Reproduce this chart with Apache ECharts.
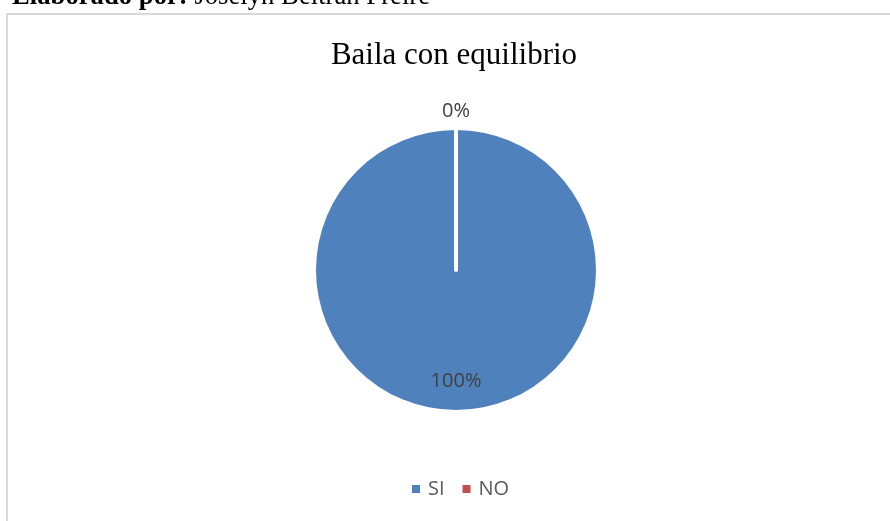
<!DOCTYPE html>
<html>
<head>
<meta charset="utf-8">
<script src="https://cdn.jsdelivr.net/npm/echarts@6/dist/echarts.min.js"></script>
<style>
html,body{margin:0;padding:0;background:#fff;}
#chart{width:890px;height:521px;}
</style>
</head>
<body>
<div id="chart"></div>
<script>
// Data
const categories = ['SI', 'NO'];
const values = [100, 0];
const colors = ['#4F81BD', '#C0504D'];
const chartTitle = 'Baila con equilibrio';
const sourceBold = 'Elaborado por:';
const sourceText = ' Joselyn Beltrán Freire';

const chart = echarts.init(document.getElementById('chart'), null, {renderer: 'canvas'});

const seriesData = categories.map((c, i) => ({
  name: c,
  value: values[i],
  itemStyle: {color: colors[i], borderColor: '#ffffff', borderWidth: i === 0 ? 0 : 4}
}));

chart.setOption({
  animation: false,
  backgroundColor: '#ffffff',
  title: {
    text: chartTitle,
    left: 454,
    textAlign: 'center',
    top: 40,
    padding: 0,
    textStyle: {
      fontFamily: 'Liberation Serif',
      fontSize: 31,
      lineHeight: 31,
      fontWeight: 'normal',
      color: '#000000'
    }
  },
  graphic: [
    {
      type: 'rect',
      silent: true,
      shape: {x: 7, y: 14, width: 900, height: 520},
      style: {fill: 'none', stroke: '#d9d9d9', lineWidth: 2}
    },
    {
      type: 'text',
      silent: true,
      x: 12,
      y: -3,
      style: {
        text: '{b|' + sourceBold + '}{r|' + sourceText + '}',
        verticalAlign: 'middle',
        align: 'left',
        rich: {
          b: {fontFamily: 'Liberation Serif', fontSize: 26.7, fontWeight: 'bold', fill: '#000'},
          r: {fontFamily: 'Liberation Serif', fontSize: 26.7, fontWeight: 'normal', fill: '#000'}
        }
      }
    }
  ],
  legend: {
    data: categories,
    left: 412,
    top: 479,
    padding: 0,
    icon: 'rect',
    itemWidth: 8,
    itemHeight: 8,
    itemGap: 18,
    selectedMode: false,
    itemStyle: {borderWidth: 0},
    textStyle: {
      fontFamily: 'Open Sans',
      fontSize: 20,
      color: '#595959',
      padding: [0, 0, 0, 3]
    }
  },
  series: [{
    type: 'pie',
    center: [456, 270],
    radius: 140,
    startAngle: 90,
    clockwise: true,
    avoidLabelOverlap: false,
    percentPrecision: 0,
    minShowLabelAngle: 0,
    emphasis: {disabled: true},
    label: {
      show: true,
      position: 'inside',
      formatter: '{d}%',
      fontFamily: 'Open Sans',
      fontSize: 20,
      color: '#404040'
    },
    labelLine: {show: false},
    labelLayout: function (params) {
      if (params.dataIndex === 0) return {dy: 38};
      return {dy: -86};
    },
    data: seriesData
  }]
});
</script>
</body>
</html>
